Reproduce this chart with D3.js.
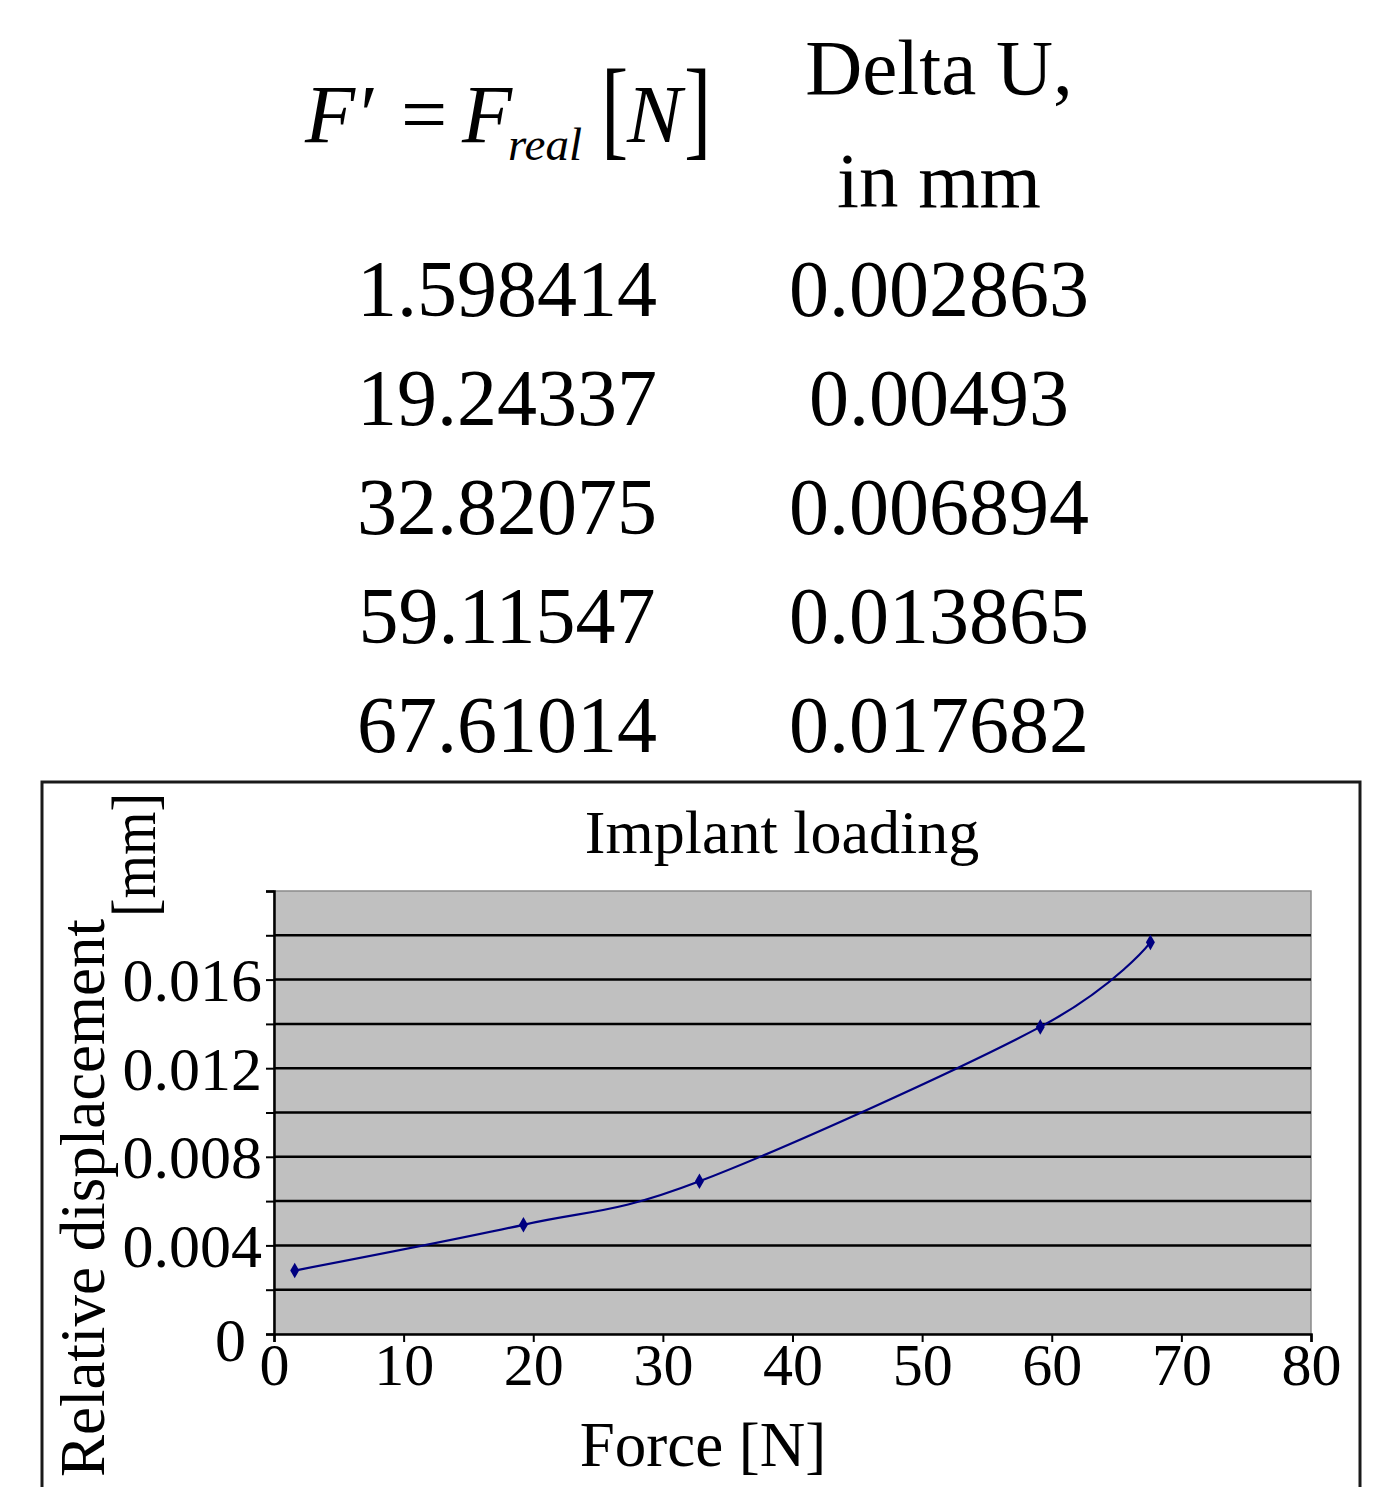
<!DOCTYPE html>
<html>
<head>
<meta charset="utf-8">
<script src="https://cdn.jsdelivr.net/npm/d3@7"></script>
<style>
  body { margin: 0; background: #fff; }
  svg { display: block; font-family: "Liberation Serif", "Times New Roman", serif; }
</style>
</head>
<body>
<div id="chart"></div>
<script>
'use strict';

// table / series data
const force = [1.598414, 19.24337, 32.82075, 59.11547, 67.61014];
const deltaU = [0.002863, 0.00493, 0.006894, 0.013865, 0.017682];
const deltaULabels = ["0.002863", "0.00493", "0.006894", "0.013865", "0.017682"];
const forceLabels = ["1.598414", "19.24337", "32.82075", "59.11547", "67.61014"];

// axis ticks
const xTicks = [0, 10, 20, 30, 40, 50, 60, 70, 80];
const yTicks = [0, 0.002, 0.004, 0.006, 0.008, 0.010, 0.012, 0.014, 0.016, 0.018, 0.020];
const yTickLabels = ["0", "", "0.004", "", "0.008", "", "0.012", "", "0.016", "", ""];
const gridValues = yTicks.slice(1, -1);

const W = 1392, H = 1487;
const svg = d3.select('#chart').append('svg')
    .attr('width', W)
    .attr('height', H);

/* ---------- table above the chart ---------- */
const table = svg.append('g').attr('class', 'table');
const colL = 507, colR = 939;

// header: F' = F_real [N]
function mathText(x, y, size, italic, txt) {
    return table.append('text').attr('x', x).attr('y', y)
        .style('font-size', size + 'px')
        .style('font-style', italic ? 'italic' : 'normal')
        .text(txt);
}
mathText(305, 142, 82, true, 'F′');
mathText(401, 142, 82, false, '=');
mathText(462, 142, 82, true, 'F');
mathText(508, 160, 47, true, 'real');
mathText(627, 142, 82, true, 'N');
// tall brackets: stretched vertically
table.append('text').attr('transform', 'translate(601,145) scale(1,1.34)')
    .style('font-size', '82px').text('[');
table.append('text').attr('transform', 'translate(684,145) scale(1,1.34)')
    .style('font-size', '82px').text(']');

table.append('text').attr('x', colR).attr('y', 94)
    .attr('text-anchor', 'middle').style('font-size', '79px').text('Delta U,');
table.append('text').attr('x', colR).attr('y', 207)
    .attr('text-anchor', 'middle').style('font-size', '79px').text('in mm');

const rowY = d3.scaleLinear().domain([0, 1]).range([316, 425]);
table.selectAll('text.fval').data(forceLabels).enter()
    .append('text').attr('class', 'fval')
    .attr('x', colL).attr('y', (d, i) => rowY(i))
    .attr('text-anchor', 'middle').style('font-size', '80px').text(d => d);
table.selectAll('text.uval').data(deltaULabels).enter()
    .append('text').attr('class', 'uval')
    .attr('x', colR).attr('y', (d, i) => rowY(i))
    .attr('text-anchor', 'middle').style('font-size', '80px').text(d => d);

/* ---------- chart ---------- */
svg.append('rect')
    .attr('x', 42).attr('y', 782).attr('width', 1318).attr('height', 760)
    .attr('fill', '#fff').attr('stroke', '#1a1a1a').attr('stroke-width', 3);

const x = d3.scaleLinear().domain([0, 80]).range([274, 1311]);
const y = d3.scaleLinear().domain([0, 0.02]).range([1334, 891]);

// plot area
svg.append('rect')
    .attr('x', x(0)).attr('y', y(0.02))
    .attr('width', x(80) - x(0)).attr('height', y(0) - y(0.02))
    .attr('fill', '#c0c0c0').attr('stroke', '#8a8a8a').attr('stroke-width', 1.5);

svg.append('g').attr('class', 'grid')
    .selectAll('line').data(gridValues).enter()
    .append('line')
    .attr('x1', x(0)).attr('x2', x(80))
    .attr('y1', d => y(d)).attr('y2', d => y(d))
    .attr('stroke', '#000').attr('stroke-width', 2.5);

const xAxis = svg.append('g')
    .attr('transform', `translate(0,${y(0)})`)
    .call(d3.axisBottom(x).tickValues(xTicks).tickSize(8).tickPadding(4).tickFormat(d3.format('d')));
const yAxis = svg.append('g')
    .attr('transform', `translate(${x(0)},0)`)
    .call(d3.axisLeft(y).tickValues(yTicks).tickSize(8).tickPadding(4)
        .tickFormat((d, i) => yTickLabels[i]));

[xAxis, yAxis].forEach(g => {
    g.selectAll('path.domain').attr('stroke', '#000').attr('stroke-width', 2.5);
    g.selectAll('.tick line').attr('stroke', '#000').attr('stroke-width', 2);
    g.selectAll('text').attr('fill', '#000')
        .style('font-family', '"Liberation Serif", serif');
});
xAxis.selectAll('text').style('font-size', '60px').attr('y', 8).attr('dy', '0.71em');
yAxis.selectAll('text').style('font-size', '62px').attr('dy', '0.34em');
// Excel pushes the zero label down-left of the corner
yAxis.selectAll('.tick').filter(d => d === 0).select('text')
    .attr('x', -28).attr('dy', '0.42em');

// series
const pts = force.map((f, i) => ({f, u: deltaU[i]}));
const line = d3.line()
    .x(d => x(d.f)).y(d => y(d.u))
    .curve(d3.curveCatmullRom.alpha(0));
svg.append('path').datum(pts)
    .attr('d', line)
    .attr('fill', 'none').attr('stroke', '#000080').attr('stroke-width', 2.2);
svg.selectAll('path.marker').data(pts).enter()
    .append('path').attr('class', 'marker')
    .attr('transform', d => `translate(${x(d.f)},${y(d.u)})`)
    .attr('d', d3.symbol(d3.symbolDiamond, 70))
    .attr('fill', '#000080');

// titles
svg.append('text').attr('x', 782).attr('y', 853)
    .attr('text-anchor', 'middle').style('font-size', '62px').text('Implant loading');
svg.append('text').attr('x', 703).attr('y', 1466)
    .attr('text-anchor', 'middle').style('font-size', '63px').text('Force [N]');

svg.append('text')
    .attr('transform', 'translate(104,1477) rotate(-90)')
    .style('font-size', '63px')
    .text('Relative displacement');
// unit sits lower than the label, as in the source
svg.append('text')
    .attr('transform', 'translate(155,917) rotate(-90)')
    .attr('textLength', 124).attr('lengthAdjust', 'spacingAndGlyphs')
    .style('font-size', '64px')
    .text('[mm]');
</script>
</body>
</html>
